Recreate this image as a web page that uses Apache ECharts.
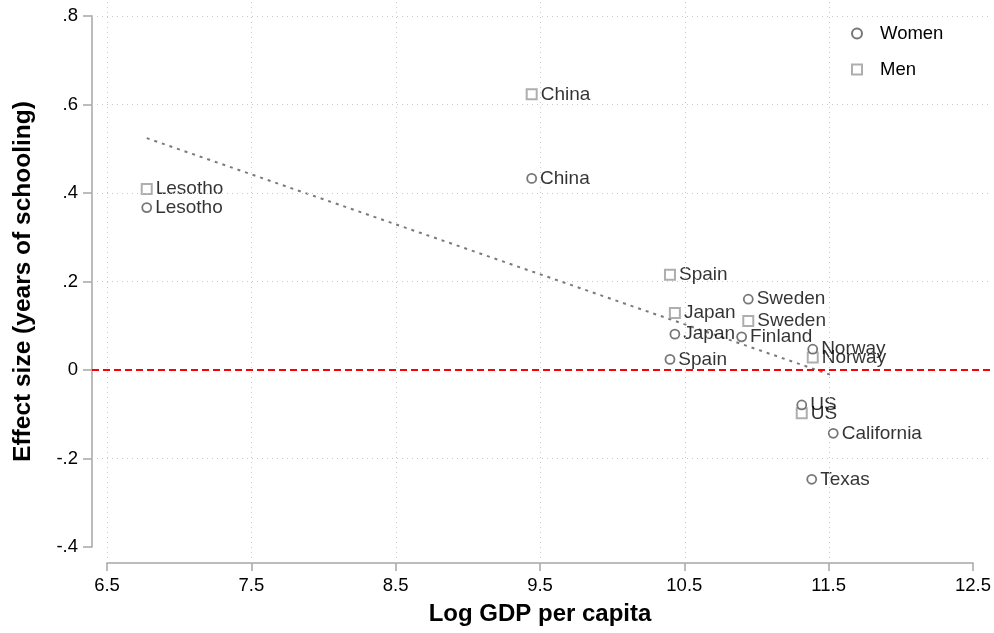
<!DOCTYPE html>
<html>
<head>
<meta charset="utf-8">
<title>Effect size vs log GDP per capita</title>
<script src="https://cdn.jsdelivr.net/npm/echarts@6/dist/echarts.min.js"></script>
<style>
  html, body { margin: 0; padding: 0; background: #fff; }
  #chart { width: 994px; height: 633px; }
</style>
</head>
<body>
<div id="chart"></div>
<script>
// ---- data ----
const womenNames = ['Lesotho', 'China', 'Spain', 'Japan', 'Sweden', 'Finland', 'Norway', 'US', 'California', 'Texas'];
const womenX = [6.775, 9.439, 10.396, 10.43, 10.938, 10.892, 11.384, 11.308, 11.526, 11.377];
const womenY = [0.367, 0.433, 0.024, 0.081, 0.160, 0.075, 0.047, -0.079, -0.143, -0.247];

const menNames = ['Lesotho', 'China', 'Spain', 'Japan', 'Sweden', 'Norway', 'US'];
const menX = [6.775, 9.439, 10.396, 10.43, 10.938, 11.384, 11.308];
const menY = [0.409, 0.623, 0.215, 0.129, 0.111, 0.028, -0.098];

// pooled fitted line, endpoints at the extremes of the data
const fitX = [6.775, 11.526];
const fitY = [0.524, -0.013];

const xTicks = [6.5, 7.5, 8.5, 9.5, 10.5, 11.5, 12.5];
const yTicks = [-0.4, -0.2, 0, 0.2, 0.4, 0.6, 0.8];
const xTitle = 'Log GDP per capita';
const yTitle = 'Effect size (years of schooling)';
const legendNames = ['Women', 'Men'];

// ---- layout ----
const W = 994, H = 633;
// outer plot region (data, gridlines, reference line)
const region = { left: 92, right: 990, top: 0, bottom: 563 };
// tick span used by the axes
const span = { left: 107, right: 974, top: 16, bottom: 547 };

const xLo = xTicks[0], xHi = xTicks[xTicks.length - 1];
const yLo = yTicks[0], yHi = yTicks[yTicks.length - 1];
const pxX = (span.right - span.left) / (xHi - xLo);
const pxY = (span.bottom - span.top) / (yHi - yLo);
const regionXMin = xLo - (span.left - region.left) / pxX;
const regionXMax = xHi + (region.right - span.right) / pxX;
const regionYMin = yLo - (region.bottom - span.bottom) / pxY;
const regionYMax = yHi + (span.top - region.top) / pxY;

const FONT = '"Liberation Sans", Arial, Helvetica, sans-serif';
const zip = (xs, ys, names) => xs.map((x, i) => [x, ys[i], names[i]]);
const fmtY = v => {
  const r = Math.round(v * 10) / 10;
  if (r === 0) return '0';
  return r.toFixed(1).replace('0.', '.');
};

// gridlines at interior ticks (none at the far right or bottom tick)
const gridX = xTicks.slice(0, -1);
const gridY = yTicks.slice(1);

const pointLabel = {
  show: true,
  position: 'right',
  distance: 3,
  formatter: p => p.data[2],
  color: '#000',
  fontFamily: FONT,
  fontSize: 19
};

const chart = echarts.init(document.getElementById('chart'), null, { renderer: 'canvas' });

chart.setOption({
  animation: false,
  backgroundColor: '#fff',
  grid: [
    { left: region.left, right: W - region.right, top: region.top, bottom: H - region.bottom },
    { left: span.left, right: W - span.right, top: span.top, bottom: H - span.bottom }
  ],
  xAxis: [
    {
      gridIndex: 0, type: 'value', min: regionXMin, max: regionXMax,
      show: false, splitLine: { show: false }
    },
    {
      gridIndex: 1, type: 'value', min: xLo, max: xHi, interval: 1,
      position: 'bottom',
      offset: region.bottom - span.bottom,
      axisLine: { show: true, onZero: false, lineStyle: { color: '#a6a6a6', width: 1.5 } },
      axisTick: { show: true, length: 8, lineStyle: { color: '#a6a6a6', width: 1.5 } },
      axisLabel: { color: '#000', fontFamily: FONT, fontSize: 18.5, margin: 13, formatter: v => String(v) },
      splitLine: { show: false },
      name: xTitle, nameLocation: 'middle', nameGap: 39,
      nameTextStyle: { color: '#000', fontFamily: FONT, fontSize: 24, fontWeight: 'bold' }
    }
  ],
  yAxis: [
    {
      gridIndex: 0, type: 'value', min: regionYMin, max: regionYMax,
      show: false, splitLine: { show: false }
    },
    {
      gridIndex: 1, type: 'value', min: yLo, max: yHi, interval: 0.2,
      position: 'left',
      offset: span.left - region.left,
      axisLine: { show: true, onZero: false, lineStyle: { color: '#a6a6a6', width: 1.5 } },
      axisTick: { show: true, length: 9, lineStyle: { color: '#a6a6a6', width: 1.5 } },
      axisLabel: { color: '#000', fontFamily: FONT, fontSize: 18.5, margin: 14, formatter: fmtY },
      splitLine: { show: false },
      name: yTitle, nameLocation: 'middle', nameGap: 56, nameRotate: 90,
      nameTextStyle: { color: '#000', fontFamily: FONT, fontSize: 24.5, fontWeight: 'bold' }
    }
  ],
  legend: {
    orient: 'vertical',
    left: 846, top: 19,
    itemWidth: 10, itemHeight: 10, itemGap: 17,
    data: legendNames,
    textStyle: { color: '#000', fontFamily: FONT, fontSize: 18.5, padding: [0, 0, 0, 13] }
  },
  series: [
    {
      // gridlines and the zero reference line
      type: 'line', xAxisIndex: 0, yAxisIndex: 0, data: [], silent: true, z: 1,
      markLine: {
        silent: true, symbol: 'none', animation: false,
        label: { show: false },
        data: [
          ...gridX.map(v => ({ xAxis: v, lineStyle: { color: '#c8c8c8', type: [1, 4], width: 1 } })),
          ...gridY.filter(v => Math.abs(v) > 1e-9).map(v => ({ yAxis: v, lineStyle: { color: '#c8c8c8', type: [1, 4], width: 1 } })),
          { yAxis: 0, lineStyle: { color: '#ff0000', type: [7, 4], width: 1.8 } }
        ]
      }
    },
    {
      name: 'Fit', type: 'line', xAxisIndex: 0, yAxisIndex: 0, z: 2,
      data: fitX.map((x, i) => [x, fitY[i]]),
      showSymbol: false, symbol: 'none',
      lineStyle: { color: '#7a7a7a', width: 2, type: [3, 5] }
    },
    {
      name: 'Men', type: 'scatter', xAxisIndex: 0, yAxisIndex: 0, z: 3,
      symbol: 'rect', symbolSize: 10,
      itemStyle: { color: '#ffffff', borderColor: '#9a9a9a', borderWidth: 2 },
      label: pointLabel,
      data: zip(menX, menY, menNames)
    },
    {
      name: 'Women', type: 'scatter', xAxisIndex: 0, yAxisIndex: 0, z: 4,
      symbol: 'circle', symbolSize: 9,
      itemStyle: { color: '#ffffff', borderColor: '#555555', borderWidth: 1.8 },
      label: pointLabel,
      data: zip(womenX, womenY, womenNames)
    }
  ]
});
</script>
</body>
</html>
